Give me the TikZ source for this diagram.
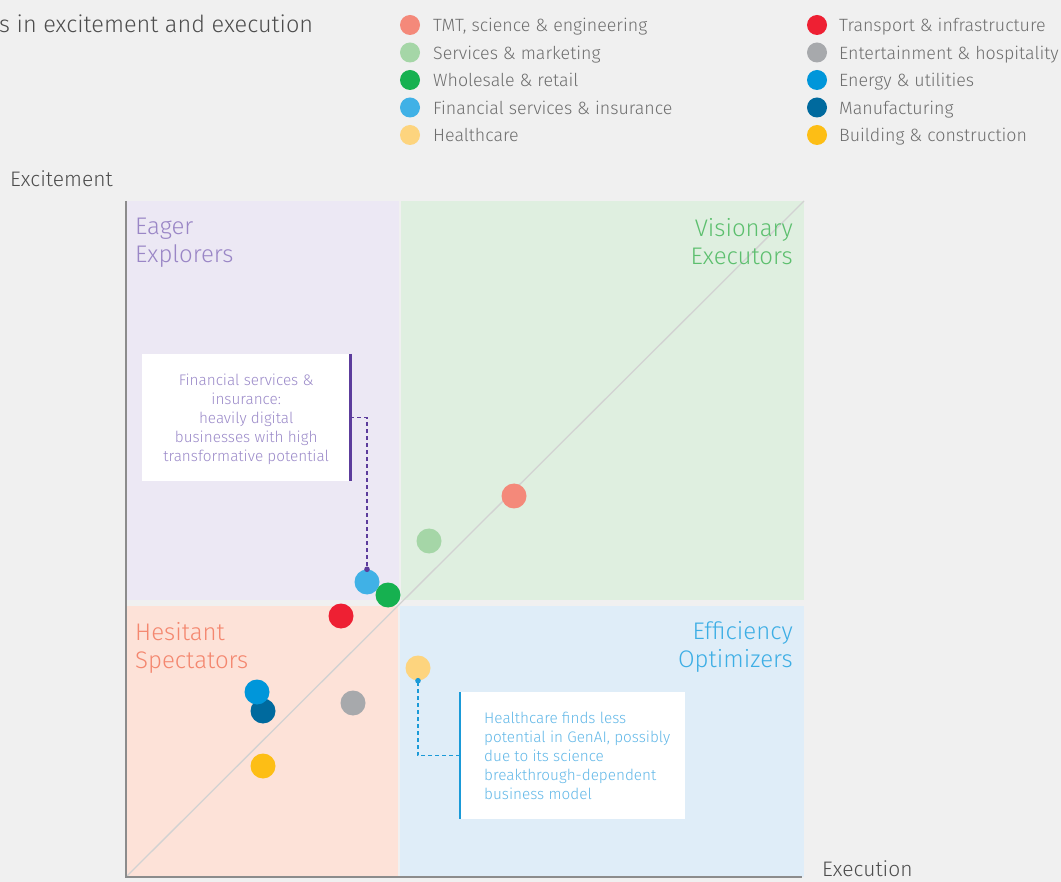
\documentclass[tikz,border=0pt]{standalone}
\usepackage{fontspec}
\setmainfont{Fira Sans Light}
\definecolor{bg}{HTML}{F0F0F0}
\definecolor{qpurple}{HTML}{ECE8F4}
\definecolor{qgreen}{HTML}{DFEFE0}
\definecolor{qpeach}{HTML}{FDE2D8}
\definecolor{qblue}{HTML}{DFEDF8}
\definecolor{axisgray}{HTML}{8C8C8C}
\definecolor{diaggray}{HTML}{D2D2D2}
\definecolor{titlegray}{HTML}{4D4D4D}
\definecolor{leggray}{HTML}{6E6E6E}
\definecolor{cTMT}{HTML}{F4897A}
\definecolor{cServ}{HTML}{A5D6A7}
\definecolor{cWhole}{HTML}{16B150}
\definecolor{cFin}{HTML}{40B1E6}
\definecolor{cHealth}{HTML}{FDD47E}
\definecolor{cTrans}{HTML}{EE2033}
\definecolor{cEnt}{HTML}{A7A9AC}
\definecolor{cEnergy}{HTML}{0096DA}
\definecolor{cManu}{HTML}{006A9E}
\definecolor{cBuild}{HTML}{FDBE15}
\definecolor{lPurple}{HTML}{9A86C6}
\definecolor{lGreen}{HTML}{5CBF6E}
\definecolor{lSalmon}{HTML}{F4876F}
\definecolor{lBlue}{HTML}{3DAEE5}
\definecolor{barPurple}{HTML}{5C3C9C}
\definecolor{barBlue}{HTML}{1A9AD8}
\definecolor{txtPurple}{HTML}{9B8AC9}
\definecolor{txtBlue}{HTML}{62B8E8}
\tikzset{
  dot/.style={circle, inner sep=0pt, minimum size=25pt, fill=#1},
  legdot/.style={circle, inner sep=0pt, minimum size=20pt, fill=#1},
  legtxt/.style={anchor=base west, inner sep=0pt, text=leggray, font=\fontsize{17.8}{21}\selectfont},
  quadlbl/.style={inner sep=0pt, font=\fontsize{24}{28}\selectfont},
  axislbl/.style={inner sep=0pt, text=titlegray, font=\fontsize{21}{24}\selectfont},
  callfont/.style={font=\fontsize{15.3}{19}\selectfont},
  leader/.style={dashed, dash pattern=on 4pt off 3pt, line width=1.2pt},
}
\begin{document}
\begin{tikzpicture}[x=1pt,y=-1pt]
\useasboundingbox (0,0) rectangle (1061,882);
\fill[bg] (0,0) rectangle (1061,882);
% quadrants
\fill[qpurple] (126,201) rectangle (399,600);
\fill[qgreen] (401,201) rectangle (804,600);
\fill[qpeach] (126,606) rectangle (398,877);
\fill[qblue] (400,606) rectangle (804,877);
% diagonal
\coordinate (orig) at (126,877);
\coordinate (corner) at (804,201);
\draw[diaggray, line width=1.3pt] (orig) -- (corner);
% axes
\coordinate (ytop) at (126,201);
\coordinate (xend) at (802,877);
\draw[axisgray, line width=2pt] (ytop) -- (orig) -- (xend);
% title
\node[anchor=base west, inner sep=0pt, text=titlegray, font=\fontsize{23.5}{26}\selectfont] (title) at (-1,33) {s in excitement and execution};
% legend
\node[legdot=cTMT] (l1) at (410,25) {};
\node[legtxt] (t1) at (433,32) {TMT, science \& engineering};
\node[legdot=cServ] (l2) at (410,52.5) {};
\node[legtxt] (t2) at (433,59.5) {Services \& marketing};
\node[legdot=cWhole] (l3) at (410,80) {};
\node[legtxt] (t3) at (433,87) {Wholesale \& retail};
\node[legdot=cFin] (l4) at (410,107.5) {};
\node[legtxt] (t4) at (433,114.5) {Financial services \& insurance};
\node[legdot=cHealth] (l5) at (410,135) {};
\node[legtxt] (t5) at (433,142) {Healthcare};
\node[legdot=cTrans] (l6) at (817,25) {};
\node[legtxt] (t6) at (839,32) {Transport \& infrastructure};
\node[legdot=cEnt] (l7) at (817,52.5) {};
\node[legtxt] (t7) at (839,59.5) {Entertainment \& hospitality};
\node[legdot=cEnergy] (l8) at (817,80) {};
\node[legtxt] (t8) at (839,87) {Energy \& utilities};
\node[legdot=cManu] (l9) at (817,107.5) {};
\node[legtxt] (t9) at (839,114.5) {Manufacturing};
\node[legdot=cBuild] (l10) at (817,135) {};
\node[legtxt] (t10) at (839,142) {Building \& construction};
% axis labels
\node[axislbl, anchor=base west] (ylbl) at (10,187) {Excitement};
\node[axislbl, anchor=base west] (xlbl) at (822,876) {Execution};
% quadrant labels
\node[quadlbl, text=lPurple, anchor=north west, align=left] (qEE) at (135,218) {Eager\\Explorers};
\node[quadlbl, text=lGreen, anchor=north east, align=right] (qVE) at (793,218) {Visionary\\Executors};
\node[quadlbl, text=lSalmon, anchor=north west, align=left] (qHS) at (135,622) {Hesitant\\Spectators};
\node[quadlbl, text=lBlue, anchor=north east, align=right] (qEO) at (793,621) {Efficiency\\Optimizers};
% data dots
\node[dot=cTMT] (dTMT) at (514,496) {};
\node[dot=cServ] (dServ) at (429,541) {};
\node[dot=cFin] (dFin) at (367,582) {};
\node[dot=cWhole] (dWhole) at (388,595) {};
\node[dot=cTrans] (dTrans) at (341,616) {};
\node[dot=cHealth] (dHealth) at (418,668) {};
\node[dot=cEnt] (dEnt) at (353,703) {};
\node[dot=cManu] (dManu) at (263,711) {};
\node[dot=cEnergy] (dEnergy) at (257,692) {};
\node[dot=cBuild] (dBuild) at (263,766) {};
% callout 1
\node[fill=white, minimum width=208pt, minimum height=127pt, inner sep=0pt, anchor=north west] (box1) at (142,354) {};
\node[inner sep=0pt, align=center, text=txtPurple, callfont] (txt1) at ([yshift=-2pt]box1.center)
  {Financial services \&\\insurance:\\heavily digital\\businesses with high\\transformative potential};
\draw[barPurple, line width=2.2pt] (box1.north east) -- (box1.south east);
\draw[barPurple, leader] (box1.east) -| (dFin.north);
\fill[barPurple] (dFin.north) circle (2.8pt);
% callout 2
\node[fill=white, minimum width=225pt, minimum height=127pt, inner sep=0pt, anchor=north west] (box2) at (460,692) {};
\node[anchor=west, inner sep=0pt, align=left, text=txtBlue, callfont] (txt2) at ([xshift=24pt]box2.west)
  {Healthcare finds less\\potential in GenAI, possibly\\due to its science\\breakthrough-dependent\\business model};
\draw[barBlue, line width=2.2pt] (box2.north west) -- (box2.south west);
\draw[barBlue, leader] (box2.west) -| (dHealth.south);
\fill[barBlue] (dHealth.south) circle (2.8pt);
\end{tikzpicture}
\end{document}
